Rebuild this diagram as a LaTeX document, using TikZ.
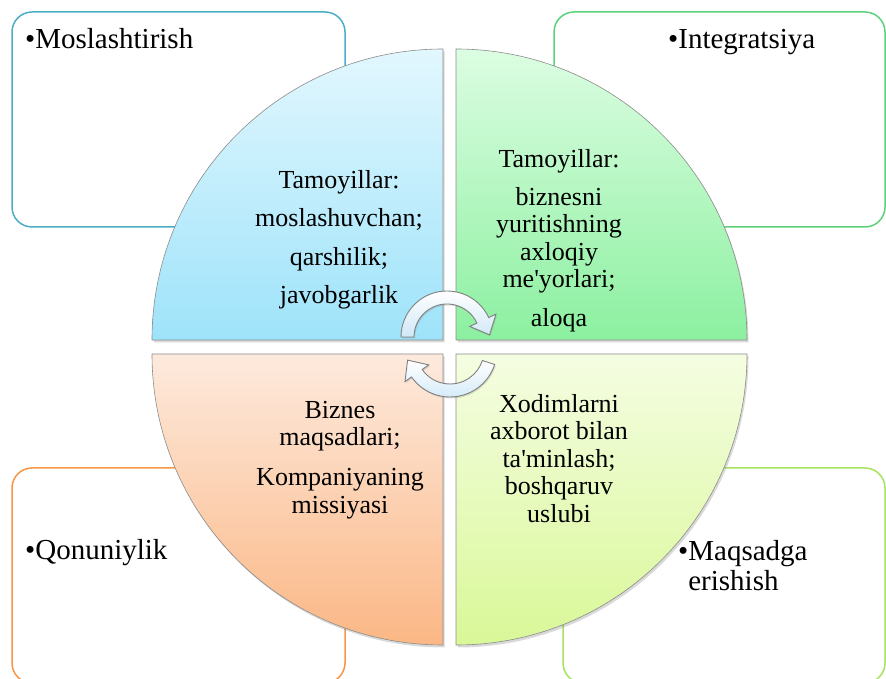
\documentclass[tikz,border=0pt]{standalone}
\usepackage{fontspec}
\setmainfont{Liberation Serif}
\usetikzlibrary{shadows,calc}
\definecolor{tlTop}{HTML}{E2F7FE}
\definecolor{tlBot}{HTML}{9EE3FA}
\definecolor{trTop}{HTML}{DCFDE2}
\definecolor{trBot}{HTML}{8CF0A0}
\definecolor{blTop}{HTML}{FDEADD}
\definecolor{blBot}{HTML}{FBB785}
\definecolor{brTop}{HTML}{F5FDE2}
\definecolor{brBot}{HTML}{D9F898}
\definecolor{boxteal}{HTML}{4BACC6}
\definecolor{boxgreen}{HTML}{5AD27A}
\definecolor{boxorange}{HTML}{F79646}
\definecolor{boxlime}{HTML}{A6E35F}
\definecolor{arrowblue}{HTML}{CFE8F7}
\newcommand{\myapos}{\textquotesingle}
\begin{document}
\begin{tikzpicture}[x=1pt,y=1pt,
  outerbox/.style={rounded corners=20pt, line width=1.5pt},
  quad/.style={draw=black!45, line width=0.6pt,
    drop shadow={shadow xshift=1.5pt, shadow yshift=-2.5pt, opacity=0.3}},
  quadtext/.style={font=\fontsize{26}{27.5}\selectfont, align=center, inner sep=0pt, anchor=north},
  boxtext/.style={font=\fontsize{29}{30}\selectfont, inner sep=0pt},
  cyclearrow/.style={draw=black!50, line width=0.9pt, top color=white, bottom color=arrowblue,
    drop shadow={shadow xshift=1pt, shadow yshift=-1.5pt, opacity=0.25}}
]
\useasboundingbox (0,0) rectangle (886,679);
\clip (0,0) rectangle (886,679);

% outer rounded boxes
\draw[outerbox, draw=boxteal] (12,452) rectangle (345,667);
\draw[outerbox, draw=boxgreen] (554,452) rectangle (885,667);
\draw[outerbox, draw=boxorange] (12,-4) rectangle (345,211);
\draw[outerbox, draw=boxlime] (563,-4) rectangle (885,211);

% quadrants
\path[quad, top color=tlTop, bottom color=tlBot]
  (443,339) -- (152,339) arc[start angle=180, end angle=90, radius=291] -- cycle;
\path[quad, top color=trTop, bottom color=trBot]
  (456,339) -- (456,630) arc[start angle=90, end angle=0, radius=291] -- cycle;
\path[quad, top color=blTop, bottom color=blBot]
  (443,325) -- (443,34) arc[start angle=270, end angle=180, radius=291] -- cycle;
\path[quad, top color=brTop, bottom color=brBot]
  (456,325) -- (747,325) arc[start angle=0, end angle=-90, radius=291] -- cycle;

% quadrant texts
\node[quadtext] (tltext) at (339,509)
  {Tamoyillar:\\[11pt]moslashuvchan;\\[11pt]qarshilik;\\[11pt]javobgarlik};
\node[quadtext] (trtext) at (559,530)
  {Tamoyillar:\\[10.5pt]biznesni\\yuritishning\\axloqiy\\me\myapos yorlari;\\[11pt]aloqa};
\node[quadtext] (bltext) at (340,278)
  {Biznes\\maqsadlari;\\[12.5pt]Kompaniyaning\\missiyasi};
\node[quadtext] (brtext) at (559,285)
  {Xodimlarni\\axborot bilan\\ta\myapos minlash;\\boshqaruv\\uslubi};

% box texts
\node[boxtext, anchor=base west] (moslash) at (25,630) {•Moslashtirish};
\node[boxtext, anchor=base west] (integr) at (668,630) {•Integratsiya};
\node[boxtext, anchor=base west] (qonun) at (25,119) {•Qonuniylik};
\node[boxtext, anchor=north west, align=left] (maqsad) at (678,139)
  {•Maqsadga\\\phantom{•}erishish};

% circular arrows
\coordinate (ca) at (447,342);
\coordinate (cb) at (450,329);
\path[cyclearrow] ($(ca)+(180:46)$) arc[start angle=180, end angle=25, radius=46]
  -- ($(ca)+(25:54)$) -- ($(ca)+(25:39.5)+(-65:16)$) -- ($(ca)+(25:25)$)
  -- ($(ca)+(25:33)$) arc[start angle=25, end angle=180, radius=33] -- cycle;
\path[cyclearrow] ($(cb)+(-18:47)$) arc[start angle=-18, end angle=-145, radius=47]
  -- ($(cb)+(-145:55)$) -- ($(cb)+(-145:40.5)+(125:16)$) -- ($(cb)+(-145:26)$)
  -- ($(cb)+(-145:34)$) arc[start angle=-145, end angle=-18, radius=34] -- cycle;
\end{tikzpicture}
\end{document}
